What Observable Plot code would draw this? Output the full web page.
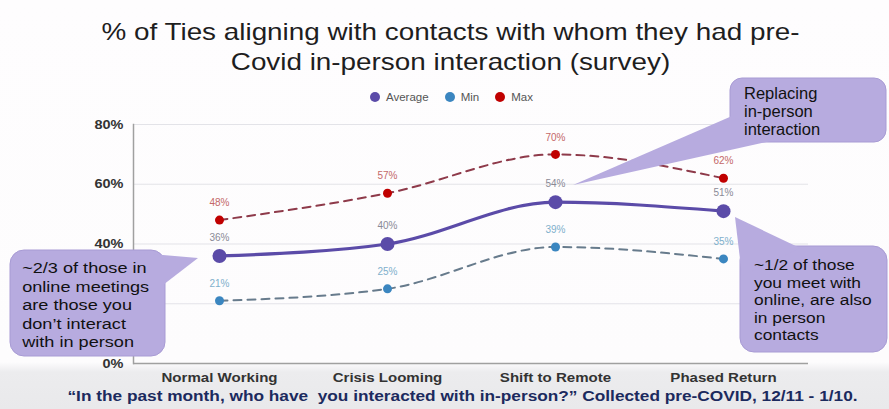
<!DOCTYPE html>
<html>
<head>
<meta charset="utf-8">
<script src="https://cdn.jsdelivr.net/npm/d3@7"></script>
<script src="https://cdn.jsdelivr.net/npm/@observablehq/plot@0.6"></script>
<style>
  html, body { margin: 0; padding: 0; }
  body {
    width: 889px; height: 409px; overflow: hidden; position: relative;
    font-family: "Liberation Sans", Arial, sans-serif;
    background: linear-gradient(to bottom, #fefdfe 0px, #fdfcfd 362px, #ececee 372px, #e9e9eb 409px);
  }
  #title {
    position: absolute; left: 6px; top: 17px; width: 889px;
    text-align: center; font-size: 24px; line-height: 30px; color: #1e1e1e;
    transform: scaleX(1.16); transform-origin: center top;
  }
  #legend {
    position: absolute; left: 370px; top: 91px; display: flex; align-items: center;
    font-size: 11.5px; color: #555;
  }
  #legend .item { display: flex; align-items: center; margin-right: 16px; }
  #legend .sw { width: 10px; height: 10px; border-radius: 50%; margin-right: 6px; }
  #chart { position: absolute; left: 0; top: 0; }
  #overlay { position: absolute; left: 0; top: 0; }
  #overlay text { transform-box: fill-box; transform-origin: left center; }
  #footer {
    position: absolute; left: 18px; top: 388px; width: 889px; text-align: center;
    font-size: 14.5px; font-weight: bold; color: #1c2a5e; white-space: pre;
    transform: scaleX(1.19); transform-origin: center top;
  }
</style>
</head>
<body>
<div id="title"></div>
<div id="legend"></div>
<div id="chart"></div>
<svg id="overlay" width="889" height="409"></svg>
<div id="footer"></div>
<script>
// ---- data ----
const categories = ["Normal Working", "Crisis Looming", "Shift to Remote", "Phased Return"];
const average = [36, 40, 54, 51];
const minimum = [21, 25, 39, 35];
const maximum = [48, 57, 70, 62];
const gridTicks = [0, 20, 40, 60, 80];
const labelTicks = [0, 40, 60, 80];
const seriesNames = ["Average", "Min", "Max"];
const titleLines = ["% of Ties aligning with contacts with whom they had pre-", "Covid in-person interaction (survey)"];
const footerText = "\u201CIn the past month, who have  you interacted with in-person?\u201D Collected pre-COVID, 12/11 - 1/10.";
const calloutLeft = ["~2/3 of those in", "online meetings", "are those you", "don\u2019t interact", "with in person"];
const calloutTop = ["Replacing", "in-person", "interaction"];
const calloutRight = ["~1/2 of those", "you meet with", "online, are also", "in person", "contacts"];

const colors = {Average: "#5b4ba8", Min: "#3b86c0", Max: "#c00000"};

// ---- title, legend, footer ----
document.getElementById("title").innerHTML = titleLines.join("<br>");
document.getElementById("footer").textContent = footerText;
const legend = document.getElementById("legend");
seriesNames.forEach(n => {
  const it = document.createElement("div"); it.className = "item";
  const sw = document.createElement("div"); sw.className = "sw"; sw.style.background = colors[n];
  const t = document.createElement("span"); t.textContent = n;
  it.appendChild(sw); it.appendChild(t); legend.appendChild(it);
});

// ---- chart ----
const rows = categories.map((c, i) => ({cat: c, avg: average[i], min: minimum[i], max: maximum[i]}));
const pct = d => d + "%";

const chart = Plot.plot({
  width: 889, height: 409,
  marginTop: 124, marginBottom: 46, marginLeft: 133, marginRight: 81,
  style: {background: "transparent", fontFamily: "'Liberation Sans', Arial, sans-serif", overflow: "visible"},
  x: {type: "point", domain: categories, padding: 0.5, label: null},
  y: {domain: [0, 80], label: null},
  marks: [
    Plot.ruleY(gridTicks.filter(d => d > 0), {stroke: "#e3e3e8", strokeWidth: 1}),
    Plot.ruleY([0], {stroke: "#a0a0a0", strokeWidth: 1.5}),
    Plot.frame({anchor: "left", stroke: "#a0a0a0", strokeWidth: 1.5}),
    Plot.axisY({ticks: labelTicks, tickSize: 0, tickPadding: 10, tickFormat: pct, fontWeight: "bold", fontSize: 12.5, fill: "#333", label: null}),
    Plot.axisX({tickSize: 0, tickPadding: 9, fontWeight: "bold", fontSize: 13, fill: "#333", label: null}),
    Plot.line(rows, {x: "cat", y: "max", curve: "monotone-x", stroke: "#8e3a4a", strokeWidth: 2, strokeDasharray: "8,6"}),
    Plot.line(rows, {x: "cat", y: "min", curve: "monotone-x", stroke: "#677b8c", strokeWidth: 2, strokeDasharray: "8,6"}),
    Plot.line(rows, {x: "cat", y: "avg", curve: "monotone-x", stroke: colors.Average, strokeWidth: 3.2}),
    Plot.dot(rows, {x: "cat", y: "max", r: 4.5, fill: colors.Max}),
    Plot.dot(rows, {x: "cat", y: "min", r: 4.5, fill: colors.Min}),
    Plot.dot(rows, {x: "cat", y: "avg", r: 7, fill: colors.Average}),
    Plot.text(rows, {x: "cat", y: "max", text: d => pct(d.max), dy: -17, fontSize: 10, fill: "#c46868"}),
    Plot.text(rows, {x: "cat", y: "min", text: d => pct(d.min), dy: -17, fontSize: 10, fill: "#7fb0cc"}),
    Plot.text(rows, {x: "cat", y: "avg", text: d => pct(d.avg), dy: -18, fontSize: 10, fill: "#8a8a96"})
  ]
});
document.getElementById("chart").appendChild(chart);
// widen axis tick labels horizontally to match the reference's stretched lettering
d3.select(chart).selectAll('g[aria-label$="tick label"] text').each(function () {
  const tr = this.getAttribute("transform") || "";
  this.setAttribute("transform", tr + " scale(1.16,1)");
});

// ---- callouts (annotation overlay) ----
const ov = d3.select("#overlay");
const fill = "#b7abdf";
function bubble(x, y, w, h, r, tri, lines, tx, ty, lh, fs, sx) {
  ov.append("rect").attr("x", x).attr("y", y).attr("width", w).attr("height", h)
    .attr("rx", r).attr("fill", fill).attr("stroke", "#a89bd4").attr("stroke-width", 1);
  ov.append("polygon").attr("points", tri.map(p => p.join(",")).join(" ")).attr("fill", fill);
  const t = ov.append("text").attr("font-family", "'Liberation Sans', Arial, sans-serif")
    .attr("font-size", fs).attr("fill", "#111").style("transform", `scaleX(${sx})`);
  lines.forEach((l, i) => t.append("tspan").attr("x", tx).attr("y", ty + i * lh).attr("dy", "0.35em").text(l));
}
bubble(10, 250, 155, 106, 14, [[128, 252], [198, 258], [163, 285]], calloutLeft, 22, 268, 18.5, 15.5, 1.17);
bubble(730, 78, 156, 64, 12, [[732, 116], [573, 185], [775, 140]], calloutTop, 744, 93, 18, 16.5, 1.0);
bubble(740, 246, 147, 106, 14, [[800, 248], [735, 217], [742, 276]], calloutRight, 754, 265, 17.5, 15.5, 1.12);
</script>
</body>
</html>
